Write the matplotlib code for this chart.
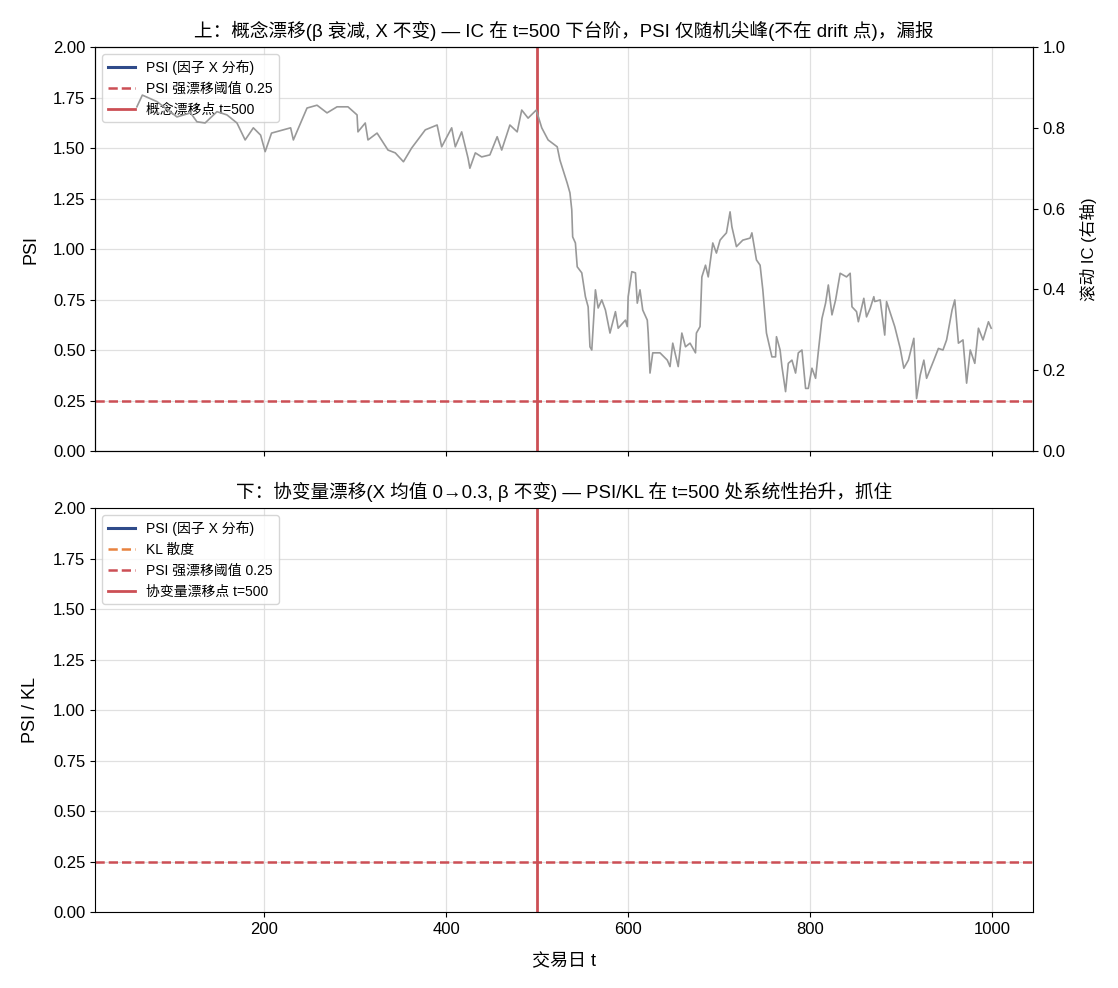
import matplotlib
matplotlib.use("Agg")
import matplotlib.pyplot as plt

plt.rcParams['font.family'] = ['Liberation Sans', 'DejaVu Sans', 'Noto Sans CJK SC']
plt.rcParams['axes.unicode_minus'] = False

# rolling IC (right axis of the top panel)
ic_t = [60, 66, 82, 104, 119, 126, 135, 148, 159, 170, 179, 188, 196, 201, 208, 221,
        229, 232, 240, 247, 258, 269, 280, 292, 302, 303, 311, 314, 324, 336, 344, 353,
        362, 377, 390, 395, 406, 410, 417, 424, 426, 432, 439, 448, 456, 461, 470, 478,
        483, 490, 499, 505, 512, 522, 525, 533, 536, 538, 539, 542, 544, 549, 553, 556,
        558, 560, 564, 567, 571, 575, 580, 586, 589, 597, 599, 600, 604, 608, 610, 613,
        616, 621, 622, 624, 627, 635, 643, 646, 649, 655, 659, 663, 668, 674, 675, 679,
        681, 685, 688, 693, 697, 701, 704, 708, 712, 714, 719, 726, 734, 736, 741, 745,
        748, 752, 758, 762, 763, 767, 769, 773, 776, 780, 784, 787, 791, 795, 798, 802,
        806, 809, 813, 817, 820, 824, 828, 833, 840, 844, 846, 851, 853, 859, 862, 866,
        870, 871, 877, 882, 884, 893, 899, 903, 908, 914, 917, 921, 925, 928, 936, 941,
        946, 950, 956, 959, 963, 968, 972, 976, 981, 985, 990, 996, 999]
ic_vals = [0.852, 0.881, 0.865, 0.827, 0.837, 0.815, 0.812, 0.840, 0.832, 0.812, 0.770,
           0.800, 0.782, 0.741, 0.787, 0.795, 0.800, 0.770, 0.812, 0.849, 0.856, 0.837,
           0.852, 0.852, 0.832, 0.790, 0.812, 0.770, 0.787, 0.745, 0.738, 0.716, 0.750,
           0.795, 0.807, 0.753, 0.800, 0.753, 0.790, 0.725, 0.700, 0.738, 0.728, 0.733,
           0.778, 0.745, 0.807, 0.790, 0.844, 0.824, 0.844, 0.800, 0.770, 0.753, 0.720,
           0.663, 0.639, 0.597, 0.530, 0.515, 0.456, 0.441, 0.382, 0.357, 0.258, 0.250,
           0.399, 0.354, 0.374, 0.349, 0.292, 0.345, 0.304, 0.324, 0.308, 0.382, 0.444,
           0.441, 0.366, 0.399, 0.349, 0.324, 0.292, 0.193, 0.243, 0.243, 0.225, 0.209,
           0.267, 0.209, 0.292, 0.258, 0.267, 0.243, 0.292, 0.308, 0.431, 0.460, 0.431,
           0.515, 0.490, 0.522, 0.530, 0.540, 0.592, 0.555, 0.506, 0.522, 0.527, 0.540,
           0.473, 0.460, 0.399, 0.292, 0.233, 0.233, 0.283, 0.250, 0.209, 0.147, 0.217,
           0.225, 0.193, 0.243, 0.250, 0.155, 0.155, 0.205, 0.180, 0.246, 0.328, 0.366,
           0.411, 0.337, 0.374, 0.440, 0.431, 0.440, 0.357, 0.345, 0.320, 0.378, 0.332,
           0.353, 0.382, 0.370, 0.374, 0.287, 0.370, 0.308, 0.254, 0.205, 0.225, 0.279,
           0.130, 0.188, 0.225, 0.180, 0.225, 0.254, 0.250, 0.275, 0.349, 0.374, 0.267,
           0.275, 0.168, 0.250, 0.217, 0.304, 0.275, 0.320, 0.304]

# PSI / KL series do not show inside the plotted range
psi_t, psi_vals = [], []
kl_t, kl_vals = [], []

psi_threshold = 0.25
drift_t = 500

c_psi = '#2f4b8a'
c_kl = '#e8823f'
c_red = '#cc4f55'

fig = plt.figure(figsize=(11.18, 9.88), dpi=100)
ax1 = fig.add_axes([0.085, 0.5435, 0.839, 0.4089])
ax2 = fig.add_axes([0.085, 0.0769, 0.839, 0.4089], sharex=ax1)

# top panel
ax1.plot(psi_t, psi_vals, color=c_psi, lw=2.2, label='PSI (因子 X 分布)')
ax1.axhline(psi_threshold, color=c_red, ls='--', lw=1.8, label='PSI 强漂移阈值 0.25')
ax1.axvline(drift_t, color=c_red, lw=2.0, label='概念漂移点 t=500')
ax1.set_ylim(0, 2)
ax1.set_ylabel('PSI', fontsize=13, labelpad=10)
ax1.grid(True, color='#e0e0e0', lw=0.9)
ax1.legend(loc='upper left', fontsize=10, framealpha=0.8)
ax1.set_title('上：概念漂移(β 衰减, X 不变) — IC 在 t=500 下台阶，PSI 仅随机尖峰(不在 drift 点)，漏报',
              fontsize=13.4, pad=7)
ax1.tick_params(labelbottom=False, labelsize=12)

axr = ax1.twinx()
axr.plot(ic_t, ic_vals, color='#999999', lw=1.2)
axr.set_ylim(0, 1)
axr.set_ylabel('滚动 IC (右轴)', fontsize=12, labelpad=10)
axr.tick_params(labelsize=12)

# bottom panel
ax2.plot(psi_t, psi_vals, color=c_psi, lw=2.2, label='PSI (因子 X 分布)')
ax2.plot(kl_t, kl_vals, color=c_kl, ls='--', lw=1.8, label='KL 散度')
ax2.axhline(psi_threshold, color=c_red, ls='--', lw=1.8, label='PSI 强漂移阈值 0.25')
ax2.axvline(drift_t, color=c_red, lw=2.0, label='协变量漂移点 t=500')
ax2.set_ylim(0, 2)
ax2.set_ylabel('PSI / KL', fontsize=13, labelpad=10)
ax2.set_xlabel('交易日 t', fontsize=13, labelpad=12)
ax2.grid(True, color='#e0e0e0', lw=0.9)
ax2.legend(loc='upper left', fontsize=10, framealpha=0.8)
ax2.set_title('下：协变量漂移(X 均值 0→0.3, β 不变) — PSI/KL 在 t=500 处系统性抬升，抓住',
              fontsize=13.4, pad=7)
ax2.tick_params(labelsize=12)

for a in (ax1, ax2):
    a.set_yticks([0, 0.25, 0.5, 0.75, 1.0, 1.25, 1.5, 1.75, 2.0])
ax1.set_xlim(14, 1045)

fig.savefig('out.png', dpi=100)
